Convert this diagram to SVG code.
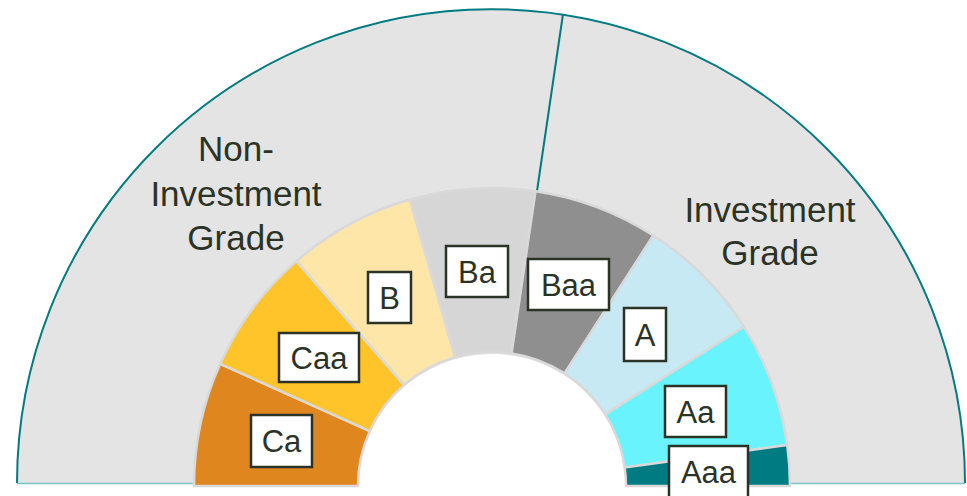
<svg xmlns="http://www.w3.org/2000/svg" width="967" height="496" viewBox="0 0 967 496">
  <style>
    .seg { stroke: #d9d9d9; stroke-width: 2.5; stroke-linejoin: round; }
    .tag rect { fill: #ffffff; stroke: #2b3327; stroke-width: 2.5; }
    .tag text { font-family: "Liberation Sans", Arial, sans-serif; font-size: 31px; fill: #2b3327; text-anchor: middle; }
    .grade { font-family: "Liberation Sans", Arial, sans-serif; font-size: 35px; fill: #2b3327; text-anchor: middle; }
  </style>
  <rect width="967" height="496" fill="#ffffff"/>

  <!-- outer half-disc -->
  <g id="backdrop">
    <path d="M17 483 A474 474 0 0 1 965 483 Z" fill="#e4e4e4"/>
    <path d="M17 483 A474 474 0 0 1 965 483" fill="none" stroke="#007b82" stroke-width="2"/>
    <line x1="17" y1="483.5" x2="965" y2="483.5" stroke="#7cc3c6" stroke-width="1.5"/>
  </g>

  <g id="connectors">
    <line x1="563" y1="14" x2="537" y2="191" stroke="#007b82" stroke-width="2"/>
  </g>

  <g id="grade-labels">
    <text class="grade" x="236" y="161">Non-</text>
    <text class="grade" x="236" y="206">Investment</text>
    <text class="grade" x="236" y="250">Grade</text>
    <text class="grade" x="770" y="222">Investment</text>
    <text class="grade" x="770" y="265">Grade</text>
  </g>

  <!-- empty centre of the ring -->
  <path id="hub" d="M358 488 A134 134 0 0 1 626 488 Z" fill="#ffffff"/>

  <!-- rating ring -->
  <g id="ring">
    <path id="seg-ca" class="seg" fill="#e0861f" d="M194 486 A298 298 0 0 1 220.2 363.8 L369.8 431.1 A134 134 0 0 0 358 486 Z"/>
    <path id="seg-caa" class="seg" fill="#ffc429" d="M220.2 363.8 A298 298 0 0 1 296.5 261.1 L404.1 384.9 A134 134 0 0 0 369.8 431.1 Z"/>
    <path id="seg-b" class="seg" fill="#fee6a8" d="M296.5 261.1 A298 298 0 0 1 409.9 199.5 L455.1 357.2 A134 134 0 0 0 404.1 384.9 Z"/>
    <path id="seg-ba" class="seg" fill="#d6d6d6" d="M409.9 199.5 A298 298 0 0 1 535.5 191.2 L511.6 353.4 A134 134 0 0 0 455.1 357.2 Z"/>
    <path id="seg-baa" class="seg" fill="#8f8f8f" d="M535.5 191.2 A298 298 0 0 1 653.4 235.5 L564.6 373.4 A134 134 0 0 0 511.6 353.4 Z"/>
    <path id="seg-a" class="seg" fill="#c6e9f3" d="M653.4 235.5 A298 298 0 0 1 743.9 326.7 L605.3 414.4 A134 134 0 0 0 564.6 373.4 Z"/>
    <path id="seg-aa" class="seg" fill="#69f4fd" d="M743.9 326.7 A298 298 0 0 1 787.2 445.1 L624.7 467.6 A134 134 0 0 0 605.3 414.4 Z"/>
    <path id="seg-aaa" class="seg" fill="#007b82" d="M787.2 445.1 A298 298 0 0 1 790 486 L626 486 A134 134 0 0 0 624.7 467.6 Z"/>
  </g>

  <g id="tag-ca" class="tag"><rect x="251" y="415" width="61" height="52"/><text x="281.5" y="452">Ca</text></g>
  <g id="tag-caa" class="tag"><rect x="279" y="333" width="80" height="49"/><text x="319" y="368.5">Caa</text></g>
  <g id="tag-b" class="tag"><rect x="368" y="272" width="43" height="51"/><text x="389.5" y="308.5">B</text></g>
  <g id="tag-ba" class="tag"><rect x="446" y="246" width="62" height="51"/><text x="477" y="282.5">Ba</text></g>
  <g id="tag-baa" class="tag"><rect x="528" y="259" width="81" height="51"/><text x="568.5" y="295.5">Baa</text></g>
  <g id="tag-a" class="tag"><rect x="624" y="308" width="42" height="53"/><text x="645" y="345.5">A</text></g>
  <g id="tag-aa" class="tag"><rect x="665" y="386" width="61" height="51"/><text x="695.5" y="422.5">Aa</text></g>
  <g id="tag-aaa" class="tag"><rect x="669" y="446" width="79" height="52"/><text x="708.5" y="483">Aaa</text></g>
</svg>
